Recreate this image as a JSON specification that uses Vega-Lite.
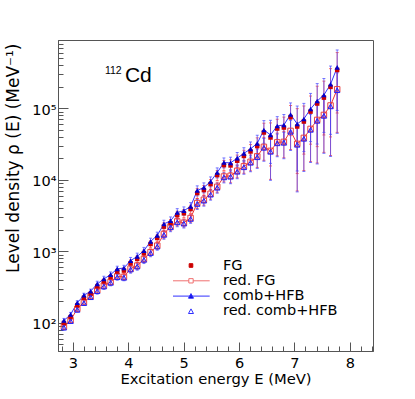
{
  "$schema": "https://vega.github.io/schema/vega-lite/v6.json",
  "width": 315,
  "height": 311,
  "autosize": {"type": "none"},
  "padding": {"left": 58, "top": 40, "right": 42, "bottom": 48},
  "background": "white",
  "config": {
    "font": "DejaVu Sans",
    "view": {"stroke": "#555", "strokeWidth": 1},
    "axis": {"grid": false, "domainColor": "#555", "tickColor": "#555", "labelColor": "black", "titleColor": "black", "titleFontWeight": "normal", "labelOverlap": false, "labelFlush": false}
  },
  "data": {"values": [
    {"E": 2.837, "fg": 99.4, "fge": 7.0, "rfg": 88.3, "rfge": 6.2, "cb": 108, "cbe": 7.6, "rcb": 85.7, "rcbe": 6.0},
    {"E": 2.957, "fg": 120.5, "fge": 8.4, "rfg": 109, "rfge": 7.6, "cb": 131, "cbe": 9.2, "rcb": 105.7, "rcbe": 7.4},
    {"E": 3.078, "fg": 175.7, "fge": 12.3, "rfg": 157, "rfge": 11, "cb": 191, "cbe": 13.4, "rcb": 152.3, "rcbe": 10.7},
    {"E": 3.198, "fg": 223.6, "fge": 15.7, "rfg": 194.5, "rfge": 13.6, "cb": 243, "cbe": 17, "rcb": 188.7, "rcbe": 13.2},
    {"E": 3.319, "fg": 254.8, "fge": 17.8, "rfg": 235.5, "rfge": 16.5, "cb": 277, "cbe": 19.4, "rcb": 228.4, "rcbe": 16},
    {"E": 3.439, "fg": 322.9, "fge": 29.1, "rfg": 286, "rfge": 25.7, "cb": 351, "cbe": 31.6, "rcb": 277.4, "rcbe": 25},
    {"E": 3.559, "fg": 379, "fge": 34.1, "rfg": 332.5, "rfge": 29.9, "cb": 412, "cbe": 37.1, "rcb": 322.5, "rcbe": 29},
    {"E": 3.680, "fg": 435, "fge": 39.2, "rfg": 374, "rfge": 33.7, "cb": 473, "cbe": 42.6, "rcb": 362.8, "rcbe": 32.7},
    {"E": 3.800, "fg": 523.5, "fge": 47.1, "rfg": 448, "rfge": 40.3, "cb": 569, "cbe": 51.2, "rcb": 434.6, "rcbe": 39.1},
    {"E": 3.921, "fg": 539, "fge": 48.5, "rfg": 440, "rfge": 39.6, "cb": 586, "cbe": 52.7, "rcb": 426.8, "rcbe": 38.4},
    {"E": 4.041, "fg": 681.7, "fge": 75, "rfg": 574, "rfge": 63.1, "cb": 741, "cbe": 81.5, "rcb": 556.8, "rcbe": 61.2},
    {"E": 4.161, "fg": 783, "fge": 86.1, "rfg": 632, "rfge": 69.5, "cb": 851, "cbe": 93.6, "rcb": 613, "rcbe": 67.4},
    {"E": 4.282, "fg": 941, "fge": 103.5, "rfg": 783, "rfge": 86.1, "cb": 1023, "cbe": 112.5, "rcb": 759.5, "rcbe": 83.5},
    {"E": 4.402, "fg": 1267, "fge": 139.4, "rfg": 975, "rfge": 107.3, "cb": 1377, "cbe": 151.5, "rcb": 945.8, "rcbe": 104},
    {"E": 4.523, "fg": 1537, "fge": 169.1, "rfg": 1202, "rfge": 132.2, "cb": 1671, "cbe": 183.8, "rcb": 1166, "rcbe": 128.3},
    {"E": 4.643, "fg": 2217, "fge": 288, "rfg": 1750, "rfge": 227.5, "cb": 2410, "cbe": 313, "rcb": 1697.5, "rcbe": 220.7},
    {"E": 4.763, "fg": 2466, "fge": 321, "rfg": 2233, "rfge": 290.3, "cb": 2680, "cbe": 348, "rcb": 2166, "rcbe": 281.6},
    {"E": 4.884, "fg": 3220, "fge": 419, "rfg": 2620, "rfge": 340.6, "cb": 3500, "cbe": 455, "rcb": 2541, "rcbe": 330.4},
    {"E": 5.004, "fg": 3404, "fge": 443, "rfg": 2512, "rfge": 326.6, "cb": 3700, "cbe": 481, "rcb": 2437, "rcbe": 316.8},
    {"E": 5.125, "fg": 3905, "fge": 508, "rfg": 2923, "rfge": 380, "cb": 4245, "cbe": 552, "rcb": 2835, "rcbe": 368.6},
    {"E": 5.245, "fg": 6532, "fge": 1045, "rfg": 4732, "rfge": 757, "cb": 7100, "cbe": 1136, "rcb": 4590, "rcbe": 734},
    {"E": 5.365, "fg": 7185, "fge": 1150, "rfg": 5260, "rfge": 842, "cb": 7810, "cbe": 1250, "rcb": 5102, "rcbe": 816},
    {"E": 5.486, "fg": 8703, "fge": 1392, "rfg": 6380, "rfge": 1021, "cb": 9460, "cbe": 1514, "rcb": 6189, "rcbe": 990},
    {"E": 5.606, "fg": 11638, "fge": 1862, "rfg": 7980, "rfge": 1277, "cb": 12650, "cbe": 2024, "rcb": 7741, "rcbe": 1239},
    {"E": 5.727, "fg": 16036, "fge": 2566, "rfg": 11120, "rfge": 1779, "cb": 17430, "cbe": 2789, "rcb": 10786, "rcbe": 1726},
    {"E": 5.847, "fg": 15879, "fge": 3176, "rfg": 11370, "rfge": 2274, "cb": 17260, "cbe": 3452, "rcb": 11029, "rcbe": 2206},
    {"E": 5.967, "fg": 18483, "fge": 3697, "rfg": 13350, "rfge": 2670, "cb": 20090, "cbe": 4018, "rcb": 12950, "rcbe": 2590},
    {"E": 6.088, "fg": 21546, "fge": 4309, "rfg": 15420, "rfge": 3084, "cb": 23420, "cbe": 4684, "rcb": 14957, "rcbe": 2991},
    {"E": 6.208, "fg": 24895, "fge": 6224, "rfg": 17830, "rfge": 4458, "cb": 27060, "cbe": 6765, "rcb": 17295, "rcbe": 4324},
    {"E": 6.329, "fg": 29716, "fge": 8915, "rfg": 21280, "rfge": 6384, "cb": 32300, "cbe": 9690, "rcb": 20642, "rcbe": 6193},
    {"E": 6.449, "fg": 45816, "fge": 16036, "rfg": 28840, "rfge": 10094, "cb": 49800, "cbe": 17430, "rcb": 27975, "rcbe": 9791},
    {"E": 6.569, "fg": 39036, "fge": 23421, "rfg": 25380, "rfge": 15228, "cb": 42430, "cbe": 25458, "rcb": 24619, "rcbe": 14771},
    {"E": 6.690, "fg": 52090, "fge": 18232, "rfg": 33340, "rfge": 11669, "cb": 56620, "cbe": 19817, "rcb": 32340, "rcbe": 11319},
    {"E": 6.810, "fg": 53802, "fge": 21521, "rfg": 33880, "rfge": 13552, "cb": 58480, "cbe": 23392, "rcb": 32864, "rcbe": 13146},
    {"E": 6.931, "fg": 75394, "fge": 33927, "rfg": 48250, "rfge": 21713, "cb": 81950, "cbe": 36878, "rcb": 46803, "rcbe": 21061},
    {"E": 7.051, "fg": 55568, "fge": 43343, "rfg": 31770, "rfge": 24781, "cb": 60400, "cbe": 47112, "rcb": 30817, "rcbe": 24037},
    {"E": 7.171, "fg": 65274, "fge": 42428, "rfg": 38540, "rfge": 25051, "cb": 70950, "cbe": 46118, "rcb": 37384, "rcbe": 24300},
    {"E": 7.292, "fg": 89948, "fge": 58466, "rfg": 51440, "rfge": 33436, "cb": 97770, "cbe": 63551, "rcb": 49897, "rcbe": 32433},
    {"E": 7.412, "fg": 116380, "fge": 87285, "rfg": 68700, "rfge": 51525, "cb": 126500, "cbe": 94875, "rcb": 66639, "rcbe": 49979},
    {"E": 7.533, "fg": 141036, "fge": 98725, "rfg": 80650, "rfge": 56455, "cb": 153300, "cbe": 107310, "rcb": 78231, "rcbe": 54762},
    {"E": 7.653, "fg": 198904, "fge": 159123, "rfg": 109400, "rfge": 87520, "cb": 216200, "cbe": 172960, "rcb": 106118, "rcbe": 84894},
    {"E": 7.773, "fg": 343344, "fge": 257508, "rfg": 184100, "rfge": 138075, "cb": 373200, "cbe": 279900, "rcb": 178577, "rcbe": 133933}
  ]},
  "encoding": {
    "x": {"field": "E", "type": "quantitative", "scale": {"domain": [2.73, 8.42], "nice": false, "zero": false},
      "axis": {
        "values": [2.8, 3, 3.2, 3.4, 3.6, 3.8, 4, 4.2, 4.4, 4.6, 4.8, 5, 5.2, 5.4, 5.6, 5.8, 6, 6.2, 6.4, 6.6, 6.8, 7, 7.2, 7.4, 7.6, 7.8, 8, 8.2, 8.4],
        "labelExpr": "abs(datum.value - round(datum.value)) < 0.001 ? format(datum.value, 'd') : ''",
        "tickSize": {"condition": {"test": "abs(datum.value - round(datum.value)) < 0.001", "value": -9}, "value": -5},
        "labelPadding": 14,
        "labelFontSize": 14.5,
        "title": "Excitation energy E (MeV)",
        "titleFontSize": 14.75,
        "titleY": 32,
        "titleBaseline": "alphabetic"
      }
    }
  },
  "layer": [
    {"mark": {"type": "line", "color": "#ee3333", "strokeWidth": 1},
     "encoding": {"y": {"field": "rfg", "type": "quantitative", "title": "Level density ρ (E) (MeV⁻¹)", "scale": {"type": "log", "domain": [40.5, 900000], "nice": false},
       "axis": {
         "values": [50, 60, 70, 80, 90, 100, 200, 300, 400, 500, 600, 700, 800, 900, 1000, 2000, 3000, 4000, 5000, 6000, 7000, 8000, 9000, 10000, 20000, 30000, 40000, 50000, 60000, 70000, 80000, 90000, 100000, 200000, 300000, 400000, 500000, 600000, 700000, 800000, 900000],
         "labelExpr": "datum.value == 100 ? '10²' : datum.value == 1000 ? '10³' : datum.value == 10000 ? '10⁴' : datum.value == 100000 ? '10⁵' : ''",
         "tickSize": {"condition": {"test": "indexof([100, 1000, 10000, 100000], datum.value) >= 0", "value": -10}, "value": -5},
         "labelPadding": 12,
         "labelFontSize": 14.5,
         "labelOffset": 2,
         "titleFontSize": 17,
         "titleAngle": -90,
         "titleAlign": "right",
         "titleBaseline": "alphabetic",
         "titleX": -40,
         "titleY": 3
       }}}},
    {"mark": {"type": "errorbar", "ticks": {"size": 3}, "color": "#ff3333", "opacity": 0.7},
     "encoding": {"y": {"field": "rfg", "type": "quantitative", "title": "Level density ρ (E) (MeV⁻¹)", "scale": {"type": "log"}}, "yError": {"field": "rfge"}}},
    {"mark": {"type": "errorbar", "ticks": {"size": 3}, "color": "#ff3333", "opacity": 0.7},
     "encoding": {"y": {"field": "fg", "type": "quantitative", "title": "Level density ρ (E) (MeV⁻¹)", "scale": {"type": "log"}}, "yError": {"field": "fge"}}},
    {"mark": {"type": "errorbar", "ticks": {"size": 3}, "color": "#4444ff", "opacity": 0.7},
     "encoding": {"y": {"field": "rcb", "type": "quantitative", "title": "Level density ρ (E) (MeV⁻¹)", "scale": {"type": "log"}}, "yError": {"field": "rcbe"}}},
    {"mark": {"type": "errorbar", "ticks": {"size": 3}, "color": "#4444ff", "opacity": 0.7},
     "encoding": {"y": {"field": "cb", "type": "quantitative", "title": "Level density ρ (E) (MeV⁻¹)", "scale": {"type": "log"}}, "yError": {"field": "cbe"}}},
    {"mark": {"type": "line", "color": "#3333ff", "strokeWidth": 1},
     "encoding": {"y": {"field": "cb", "type": "quantitative", "title": "Level density ρ (E) (MeV⁻¹)", "scale": {"type": "log"}}}},
    {"mark": {"type": "point", "shape": "square", "size": 30, "filled": false, "stroke": "#e84040", "strokeWidth": 1, "opacity": 1},
     "encoding": {"y": {"field": "rfg", "type": "quantitative", "title": "Level density ρ (E) (MeV⁻¹)", "scale": {"type": "log"}}}},
    {"mark": {"type": "point", "shape": "square", "size": 20, "filled": true, "color": "#cc0000", "opacity": 1},
     "encoding": {"y": {"field": "fg", "type": "quantitative", "title": "Level density ρ (E) (MeV⁻¹)", "scale": {"type": "log"}}}},
    {"mark": {"type": "point", "shape": "triangle-up", "size": 28, "filled": false, "stroke": "#2222ff", "strokeWidth": 1, "opacity": 1},
     "encoding": {"y": {"field": "rcb", "type": "quantitative", "title": "Level density ρ (E) (MeV⁻¹)", "scale": {"type": "log"}}}},
    {"mark": {"type": "point", "shape": "triangle-up", "size": 28, "filled": true, "color": "#0000cc", "opacity": 1},
     "encoding": {"y": {"field": "cb", "type": "quantitative", "title": "Level density ρ (E) (MeV⁻¹)", "scale": {"type": "log"}}}},
    {"transform": [{"fold": ["fg", "rfg", "cb", "rcb"], "as": ["s", "v"]}],
     "mark": {"type": "point", "opacity": 0},
     "encoding": {
       "y": {"field": "v", "type": "quantitative", "title": "Level density ρ (E) (MeV⁻¹)", "scale": {"type": "log"}},
       "shape": {"field": "s", "type": "nominal",
         "scale": {"domain": ["fg", "rfg", "cb", "rcb"], "range": ["M-3.19,-0.26H-2.67V0.26H-3.19Z", "M-5.5,0H-3.24M-2.62,0H-0.26M-3.24,-0.31H-2.62V0.31H-3.24Z", "M-5.5,0H-0.26M-2.93,-0.36L-2.57,0.3H-3.29Z", "M-2.93,-0.36L-2.57,0.3H-3.29Z"]},
         "legend": {"title": null, "orient": "none", "legendX": 146, "legendY": 218, "symbolSize": 196, "symbolStrokeWidth": 1, "symbolOpacity": 1, "labelFontSize": 14.5, "labelOffset": 4, "rowPadding": 0.3, "padding": 0, "labelColor": "black",
           "labelExpr": "datum.value == 'fg' ? 'FG' : datum.value == 'rfg' ? 'red. FG' : datum.value == 'cb' ? 'comb+HFB' : 'red. comb+HFB'"}},
       "fill": {"field": "s", "type": "nominal",
         "scale": {"domain": ["fg", "rfg", "cb", "rcb"], "range": ["#cc0000", "transparent", "#0000cc", "transparent"]},
         "legend": {"title": null, "orient": "none", "legendX": 146, "legendY": 218, "symbolSize": 196, "symbolStrokeWidth": 1, "symbolOpacity": 1, "labelFontSize": 14.5, "labelOffset": 4, "rowPadding": 0.3, "padding": 0, "labelColor": "black",
           "labelExpr": "datum.value == 'fg' ? 'FG' : datum.value == 'rfg' ? 'red. FG' : datum.value == 'cb' ? 'comb+HFB' : 'red. comb+HFB'"}},
       "stroke": {"field": "s", "type": "nominal",
         "scale": {"domain": ["fg", "rfg", "cb", "rcb"], "range": ["#cc0000", "#f07070", "#3030ff", "#3030ff"]},
         "legend": {"title": null, "orient": "none", "legendX": 146, "legendY": 218, "symbolSize": 196, "symbolStrokeWidth": 1, "symbolOpacity": 1, "labelFontSize": 14.5, "labelOffset": 4, "rowPadding": 0.3, "padding": 0, "labelColor": "black",
           "labelExpr": "datum.value == 'fg' ? 'FG' : datum.value == 'rfg' ? 'red. FG' : datum.value == 'cb' ? 'comb+HFB' : 'red. comb+HFB'"}}
     }},
    {"transform": [{"filter": "datum.E < 2.9"}],
     "mark": {"type": "text", "text": "112", "fontSize": 10.5, "align": "left", "baseline": "alphabetic", "color": "black", "font": "Liberation Sans"},
     "encoding": {"x": {"datum": 3.577, "type": "quantitative"}, "y": {"datum": 301000, "type": "quantitative", "title": "Level density ρ (E) (MeV⁻¹)", "scale": {"type": "log"}}}},
    {"transform": [{"filter": "datum.E < 2.9"}],
     "mark": {"type": "text", "text": "Cd", "fontSize": 21, "align": "left", "baseline": "alphabetic", "color": "black", "font": "Liberation Sans"},
     "encoding": {"x": {"datum": 3.938, "type": "quantitative"}, "y": {"datum": 236600, "type": "quantitative", "title": "Level density ρ (E) (MeV⁻¹)", "scale": {"type": "log"}}}}
  ]
}
